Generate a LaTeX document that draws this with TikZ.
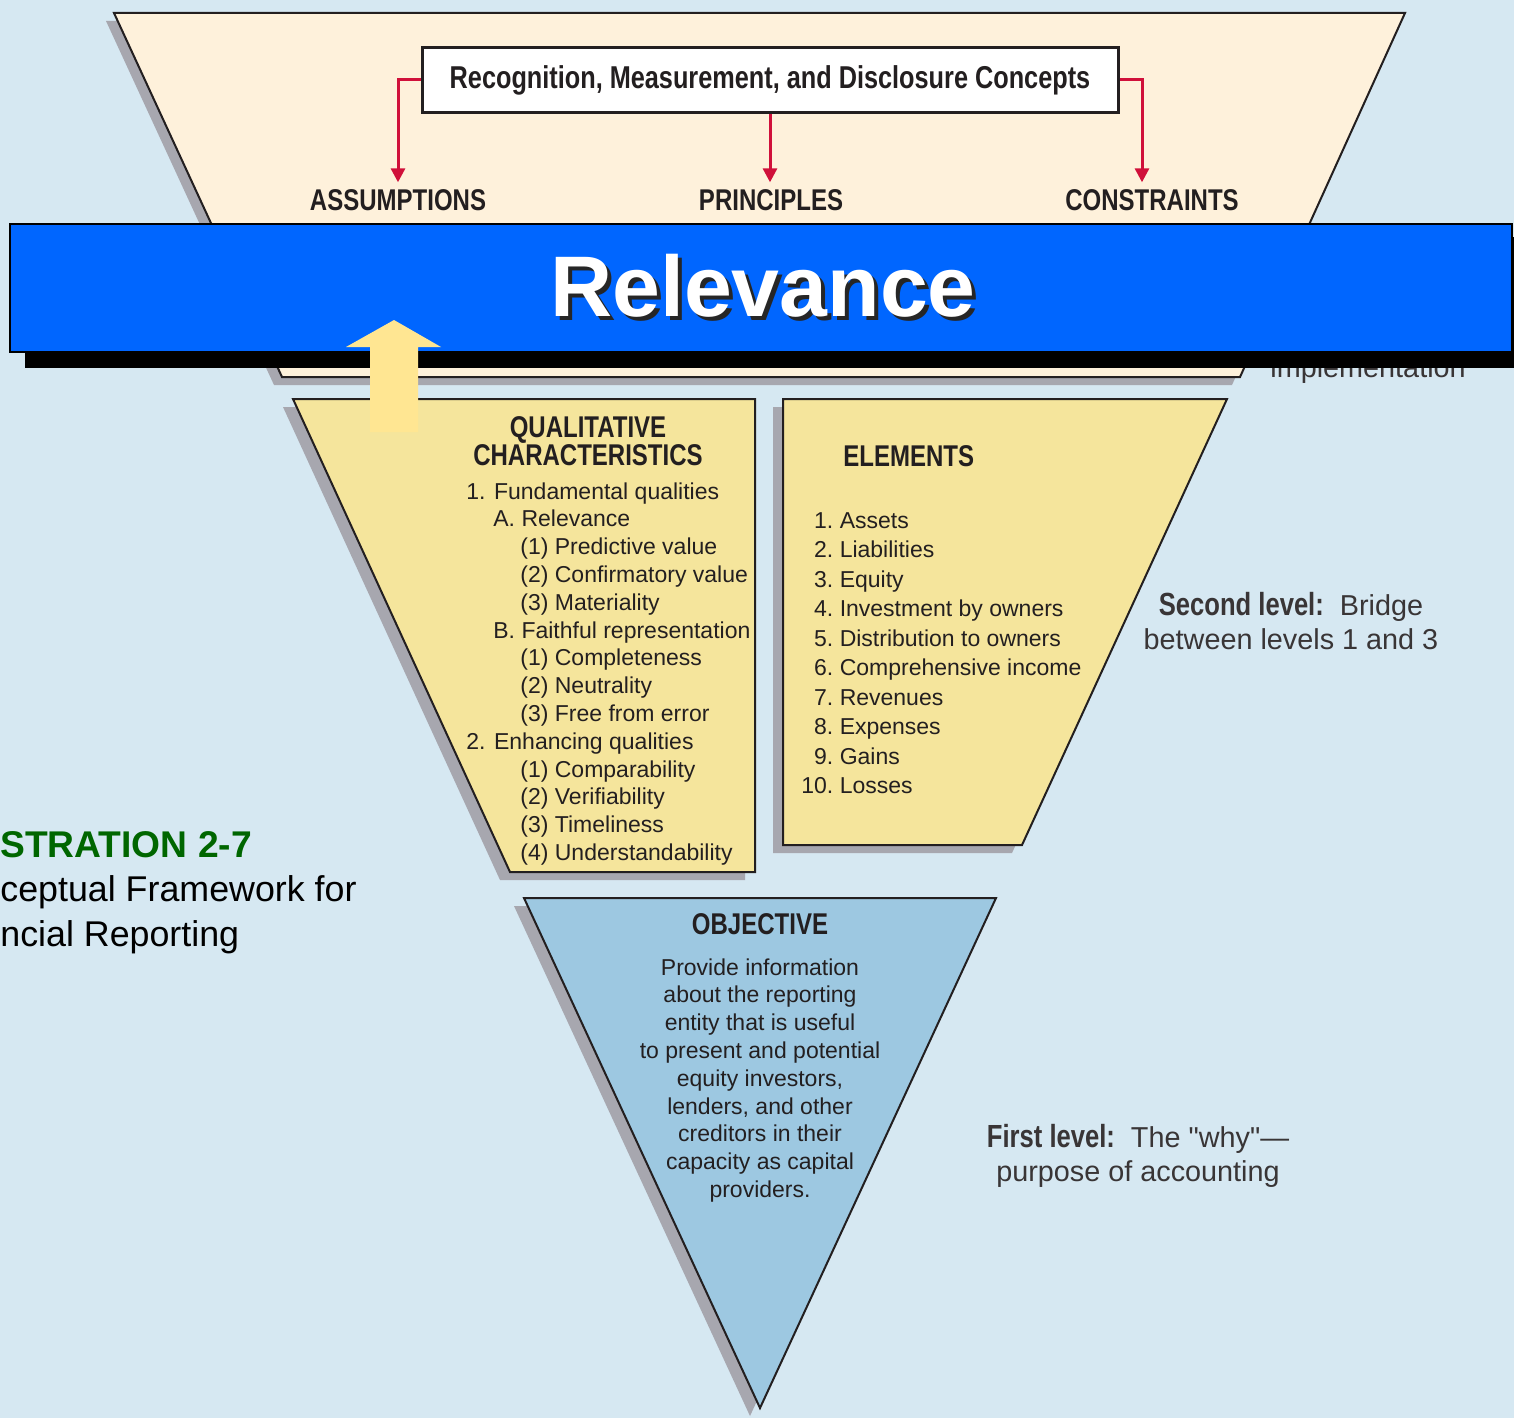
\documentclass[tikz,border=0pt]{standalone}
\usepackage{fontspec}
\setmainfont{Liberation Sans}
\newfontfamily\condfont[FakeStretch=0.8]{Liberation Sans}
\newfontfamily\plainquote[Ligatures=TeXOff]{Liberation Sans}
\usepackage{tikz}
\usetikzlibrary{arrows.meta}
\definecolor{bg}{HTML}{D6E8F2}
\definecolor{cream}{HTML}{FEF1DB}
\definecolor{straw}{HTML}{F5E59C}
\definecolor{sky}{HTML}{9DC8E1}
\definecolor{banner}{HTML}{0066FF}
\definecolor{arrowyellow}{HTML}{FFE692}
\definecolor{crimson}{HTML}{D0103A}
\definecolor{ink}{HTML}{231F20}
\definecolor{shadowgray}{HTML}{A7A7AF}
\definecolor{darkgreen}{HTML}{006600}
\tikzset{
  panel/.style={draw=ink, line width=1pt},
  dropshadow/.style={fill=shadowgray},
  head/.style={text=ink, font=\condfont\bfseries\fontsize{15}{14}\selectfont, align=center},
  body/.style={text=ink, font=\fontsize{11.5}{13.9}\selectfont},
  side/.style={text=ink!90, font=\fontsize{14.4}{17.3}\selectfont, align=center},
  link/.style={draw=crimson, line width=1.5pt, -{Triangle[width=7pt,length=7pt]}}
}
\begin{document}
\begin{tikzpicture}[x=0.5pt, y=-0.5pt]
\useasboundingbox[fill=bg] (0,0) rectangle (1514,1418);

% third level
\fill[dropshadow] (106,21) -- (1397,21) -- (1232,385) -- (274,385) -- cycle;
\draw[panel, fill=cream] (114,13) -- (1405,13) -- (1240,377) -- (282,377) -- cycle;
\node[draw=ink, line width=1.5pt, fill=white, minimum width=348pt, minimum height=32.5pt,
  text=ink, font=\condfont\bfseries\fontsize{15.8}{18}\selectfont] (rec) at (770,80)
  {Recognition, Measurement, and Disclosure Concepts};
\node[head] (assume) at (398,200) {ASSUMPTIONS};
\node[head] (prin) at (771,200) {PRINCIPLES};
\node[head] (cons) at (1152,200) {CONSTRAINTS};
\draw[link] (rec.west) -| (assume.north);
\draw[link] (rec.south) -- (rec.south |- prin.north);
\draw[link] (rec.east) -| ([xshift=-5pt]cons.north);
\node[side, anchor=base west, inner sep=0] (impl) at (1270,377) {implementation};

% banner
\fill[black] (25,237) rectangle (1520,368);
\draw[fill=banner, line width=1pt] (10,224) rectangle (1512,352);
\node[text=white, font=\bfseries\fontsize{43}{50}\selectfont] (rel) at (763,288)
  {\makebox[0pt][l]{\hspace{2pt}\raisebox{-2pt}{\color{black!85}Relevance}}Relevance};

% second level
\fill[dropshadow] (283,407) -- (745,407) -- (745,880) -- (500,880) -- cycle;
\draw[panel, fill=straw] (293,399) -- (755,399) -- (755,872) -- (510,872) -- cycle;
\fill[dropshadow] (773,407) -- (1217,407) -- (1012,853) -- (773,853) -- cycle;
\draw[panel, fill=straw] (783,399) -- (1227,399) -- (1022,845) -- (783,845) -- cycle;

\node[head] (qualhead) at (588,441) {QUALITATIVE\\CHARACTERISTICS};
\node[body, anchor=north west, align=left, inner sep=0] (quallist) at (466,482)
  {1. Fundamental qualities\\
   \hspace*{13.5pt}A. Relevance\\
   \hspace*{27pt}(1) Predictive value\\
   \hspace*{27pt}(2) Confirmatory value\\
   \hspace*{27pt}(3) Materiality\\
   \hspace*{13.5pt}B. Faithful representation\\
   \hspace*{27pt}(1) Completeness\\
   \hspace*{27pt}(2) Neutrality\\
   \hspace*{27pt}(3) Free from error\\
   2. Enhancing qualities\\
   \hspace*{27pt}(1) Comparability\\
   \hspace*{27pt}(2) Verifiability\\
   \hspace*{27pt}(3) Timeliness\\
   \hspace*{27pt}(4) Understandability};

\node[head, anchor=west, inner sep=0] (elemhead) at (843,456) {ELEMENTS};
\node[body, anchor=north west, inner sep=0, font=\fontsize{11.5}{14.75}\selectfont] (elemlist) at (801,507)
  {\begin{tabular}{@{}r@{\ }l@{}}
   1. & Assets\\
   2. & Liabilities\\
   3. & Equity\\
   4. & Investment by owners\\
   5. & Distribution to owners\\
   6. & Comprehensive income\\
   7. & Revenues\\
   8. & Expenses\\
   9. & Gains\\
   10. & Losses
   \end{tabular}};
\node[side] (second) at (1291,621)
  {{\condfont\bfseries\fontsize{16}{17}\selectfont Second level:}\ \ Bridge\\between levels 1 and 3};

% first level
\fill[dropshadow] (514,906) -- (986,906) -- (750,1416) -- cycle;
\draw[panel, fill=sky] (524,898) -- (996,898) -- (760,1408) -- cycle;
\node[head] (objhead) at (760,924) {OBJECTIVE};
\node[body, anchor=north, align=center, inner sep=0] (objtext) at (760,958)
  {Provide information\\about the reporting\\entity that is useful\\to present and potential\\equity investors,\\lenders, and other\\creditors in their\\capacity as capital\\providers.};
\node[side] (first) at (1138,1156)
  {{\condfont\bfseries\fontsize{16}{17}\selectfont First level:}\ \ The {\plainquote"why"}—\\purpose of accounting};

% caption
\node[anchor=north west, inner sep=0, align=left, font=\fontsize{17.9}{22.25}\selectfont] (caption) at (0,831)
  {{\color{darkgreen}\bfseries\fontsize{18.6}{22.25}\selectfont STRATION 2-7}\\ceptual Framework for\\ncial Reporting};

% up arrow
\fill[arrowyellow] (394,320) -- (441,347) -- (418,347) -- (418,432) -- (370,432) -- (370,347) -- (346,347) -- cycle;
\end{tikzpicture}
\end{document}
